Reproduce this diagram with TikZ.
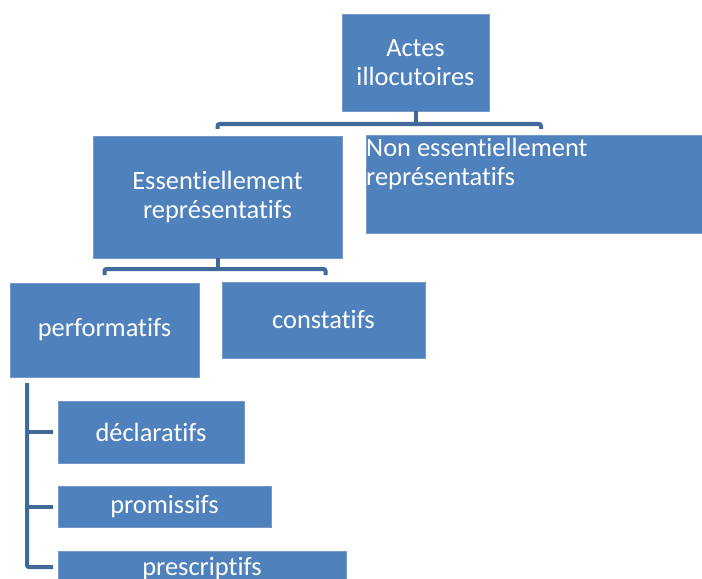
\documentclass[tikz,border=0pt]{standalone}
\usepackage{fontspec}
\setmainfont{Carlito}[RawFeature=-liga]
\usetikzlibrary{calc}
\definecolor{boxblue}{HTML}{4F81BD}
\definecolor{connblue}{HTML}{41699A}
\begin{document}
\begin{tikzpicture}[x=1bp,y=-1bp,
  box/.style={fill=boxblue,draw=boxblue!80!white,line width=0.5bp,text=white,inner sep=0pt,outer sep=0pt,align=center,
    font=\fontsize{26.5}{29}\selectfont},
  conn/.style={draw=connblue,line width=4bp,rounded corners=2bp}]
\useasboundingbox (0,0) rectangle (702,579);
\node[box,minimum width=147bp,minimum height=97bp,anchor=north west] (actes) at (342,14) {Actes\\illocutoires};
\node[box,minimum width=249bp,minimum height=122bp,anchor=north west] (ess) at (93,136) {Essentiellement\\représentatifs};
\node[box,minimum width=336bp,minimum height=98bp,anchor=north west] (non) at (366,135) {};
\node[text=white,font=\fontsize{26.5}{29}\selectfont,anchor=north west,inner sep=0pt,align=left] (nontext) at (366,138) {Non essentiellement\\représentatifs};
\node[box,minimum width=189bp,minimum height=94bp,anchor=north west] (perf) at (10,283) {performatifs};
\node[box,minimum width=203bp,minimum height=76bp,anchor=north west] (const) at (222,282) {constatifs};
\node[box,minimum width=186bp,minimum height=62bp,anchor=north west] (decl) at (58,401) {déclaratifs};
\node[box,minimum width=213bp,minimum height=41bp,anchor=north west] (prom) at (58,486) {promissifs};
\node[box,minimum width=288bp,minimum height=36bp,anchor=north west] (presc) at (58,551) {prescriptifs};
% bracket 1
\coordinate (j1) at ($(actes.south)+(0,13)$);
\draw[conn] (actes.south) -- (j1);
\draw[conn] ($(ess.north)+(0,-7)$) |- (j1) -| ($(non.north)+(7,-6)$);
% bracket 2
\coordinate (j2) at ($(ess.south)+(0,10)$);
\draw[conn] (ess.south) -- (j2);
\draw[conn] ($(perf.north)+(0,-8)$) -- ($(perf.north)+(0,-14)$) -| ($(const.north)+(2,-7)$);
% bracket 3
\coordinate (v) at ($(perf.south west)+(17,6)$);
\draw[conn] (v) |- ($(presc.west)+(-5,-2)$);
\draw[conn] (v |- decl.west) -- ($(decl.west)+(-5,0)$);
\draw[conn] (v |- prom.west) -- ($(prom.west)+(-5,0)$);
\end{tikzpicture}
\end{document}
